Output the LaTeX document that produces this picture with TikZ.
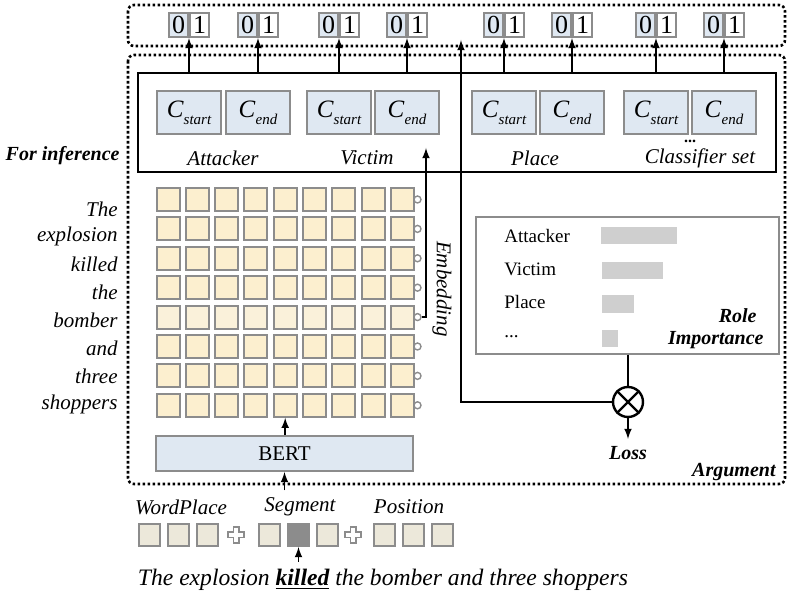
\documentclass[tikz,border=0pt]{standalone}
\usepackage{fontspec}
\setmainfont{Liberation Serif}
\usetikzlibrary{positioning}

\definecolor{cellgray}{HTML}{8C8C8C}
\definecolor{cblue}{HTML}{DFE8F2}
\definecolor{tokcol}{HTML}{FCEFCF}
\definecolor{tokhl}{HTML}{FAF1DA}
\definecolor{embcol}{HTML}{ECE8DA}
\definecolor{barcol}{HTML}{CFCFCF}

\newcommand{\csub}[1]{\textit{C}\raisebox{-0.3em}{\fontsize{7.5}{8}\selectfont\itshape #1}}

\tikzset{every picture/.style={line width=0.75pt}}
\tikzset{
  >=latex,
  cls/.style={draw=cellgray, line width=1pt, fill=cblue, minimum width=32pt, minimum height=21.5pt, inner sep=0pt, font=\fontsize{12.5}{14}\selectfont},
  bit/.style={draw=cellgray, line width=1pt, minimum width=9.5pt, minimum height=12pt, inner sep=0pt, font=\fontsize{13}{13}\selectfont},
  tok/.style={draw=cellgray, line width=1pt, fill=tokcol, minimum size=11.5pt, inner sep=0pt},
  emb/.style={draw=cellgray, line width=1pt, fill=embcol, minimum width=10.5pt, minimum height=11pt, inner sep=0pt},
  knob/.style={circle, draw=cellgray, fill=white, line width=0.7pt, minimum size=3.5pt, inner sep=0pt},
  frame/.style={draw, line width=1.3pt, dash pattern=on 1.3pt off 1.2pt, rounded corners=3pt},
  plusmark/.style={draw=cellgray, fill=white, line width=0.8pt},
  lbl/.style={font=\fontsize{10.5}{12}\selectfont\itshape},
  blbl/.style={font=\fontsize{10}{12}\selectfont\bfseries\itshape},
  rlbl/.style={font=\fontsize{9.5}{11}\selectfont, anchor=west},
}

\begin{document}
\begin{tikzpicture}[x=0.5pt,y=-0.5pt]
  \useasboundingbox (0,0) rectangle (789,597);

  % dotted frames
  \draw[frame] (128,5) rectangle (785,46);
  \draw[frame] (128,55) rectangle (785,484);
  \node[blbl, anchor=east] (infer) at (127,156) {For inference};
  \node[blbl, anchor=east] (arg) at (783,472) {Argument};

  % classifier set
  \node[draw, line width=1pt, minimum width=319pt, minimum height=49.5pt, inner sep=0pt] (clsset) at (457,122.5) {};
  \coordinate (bitrow) at (0,25);
  \foreach \x/\s [count=\i] in {189/start,258/end,339/start,407/end,504/start,572/end,656/start,724/end} {
    \node[cls] (c-\i) at (\x,113) {\csub{\s}};
    \node[bit, fill=cblue, anchor=east] (b0-\i) at (c-\i |- bitrow) {0};
    \node[bit, fill=white, right=0pt of b0-\i] (b1-\i) {1};
    \draw[->] (c-\i |- clsset.north) -- (b0-\i.south east);
  }
  \node[lbl] (attacker) at (223,158) {Attacker};
  \node[lbl] (victim) at (367,158) {Victim};
  \node[lbl] (place) at (535,158) {Place};
  \node[lbl] (clsname) at (700,158) {Classifier set};
  \node[font=\fontsize{8}{9}\selectfont\bfseries, inner sep=0pt] (more) at (690,141) {...};

  % token grid
  \foreach \r/\f in {1/tokcol,2/tokcol,3/tokcol,4/tokcol,5/tokhl,6/tokcol,7/tokcol,8/tokcol} {
    \foreach \c in {1,...,9}
      \node[tok, fill=\f] (t-\c-\r) at ({168+(\c-1)*29.3},{199.5+(\r-1)*29.4}) {};
    \node[knob] (k-\r) at (417.5,{199.5+(\r-1)*29.4}) {};
  }
  \foreach \w [count=\r] in {The,explosion,killed,the,bomber,and,three,shoppers}
    \node[lbl, anchor=east] (w-\r) at (125,{209+(\r-1)*27.9}) {\w};

  % embedding of the argument row
  \coordinate (embtip) at (426,148);
  \draw[->] (k-5.east) -| (embtip);
  \node[lbl, rotate=-90] (embname) at (442,289) {Embedding};

  % role importance
  \node[draw=cellgray, line width=0.6pt, minimum width=151.5pt, minimum height=68.5pt, inner sep=0pt] (role) at (627.5,285.5) {};
  \node[rlbl] (r-1) at (497,236) {Attacker};
  \node[rlbl] (r-2) at (497,269) {Victim};
  \node[rlbl] (r-3) at (497,302) {Place};
  \node[rlbl] (r-4) at (497,337) {...};
  \fill[barcol] (601,227) rectangle (677,244);
  \fill[barcol] (602,262) rectangle (663,279);
  \fill[barcol] (602,295) rectangle (634,313);
  \fill[barcol] (602,330) rectangle (618,347);
  \node[blbl, anchor=east] (rolename) at (764,316) {Role};
  \node[blbl, anchor=east] (impname) at (771,340) {Importance};

  % loss
  \node[circle, draw, line width=1.2pt, minimum size=15pt, inner sep=0pt] (mul) at (628,402) {};
  \draw[line width=1.2pt] (mul.north west) -- (mul.south east);
  \draw[line width=1.2pt] (mul.north east) -- (mul.south west);
  \draw (mul.north |- role.south) -- (mul.north);
  \node[blbl] (loss) at (628,453) {Loss};
  \draw[->] (mul.south) -- (loss.north);
  \coordinate (up) at (461,40);
  \draw[->] (mul.west) -| (up);

  % BERT
  \node[draw=cellgray, line width=1pt, fill=cblue, minimum width=128.5pt, minimum height=17.5pt, inner sep=0pt, font=\fontsize{10.5}{12}\selectfont] (bert) at (284.5,453.5) {BERT};
  \draw[->] (t-5-8.south |- bert.north) -- (t-5-8.south);

  % input embeddings
  \node[lbl] (wpname) at (181,507) {WordPlace};
  \node[lbl] (segname) at (300,507) {Segment};
  \node[lbl] (posname) at (409,507) {Position};
  \draw[->] (bert.south |- segname.north) -- (bert.south);
  \foreach \x [count=\i] in {149.5,178,207}
    \node[emb] (e-\i) at (\x,535) {};
  \foreach \x [count=\i] in {269,298.5,327}
    \node[emb] (s-\i) at (\x,535) {};
  \node[emb, fill=cellgray] at (s-2) {};
  \foreach \x [count=\i] in {384.5,413,442.5}
    \node[emb] (p-\i) at (\x,535) {};
  \foreach \px in {236,353}
    \draw[plusmark, shift={(\px,535)}] (-2.7,-8) -- (2.7,-8) -- (2.7,-2.7) -- (8,-2.7) -- (8,2.7) -- (2.7,2.7) -- (2.7,8) -- (-2.7,8) -- (-2.7,2.7) -- (-8,2.7) -- (-8,-2.7) -- (-2.7,-2.7) -- cycle;

  \node[font=\fontsize{11.8}{13}\selectfont\itshape] (sent) at (383,580) {The explosion \underline{\textbf{killed}} the bomber and three shoppers};
  \draw[->] (s-2.south |- sent.north) -- (s-2.south);
\end{tikzpicture}
\end{document}
